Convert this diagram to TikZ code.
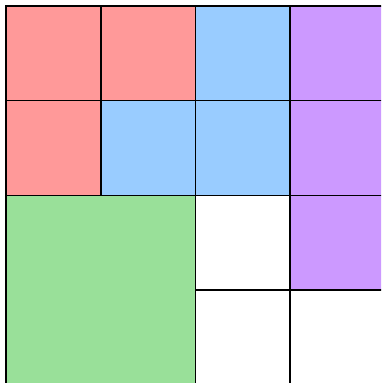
\documentclass[tikz,border=0pt]{standalone}
\usepackage{tikz}

\definecolor{rouge}{RGB}{255,153,153}
\definecolor{bleu}{RGB}{153,204,255}
\definecolor{violet}{RGB}{204,153,255}
\definecolor{vert}{RGB}{153,224,153}

\begin{document}
\begin{tikzpicture}[line width=0.5pt]

% ===== Cadre (coupe a droite et en bas) =====
\useasboundingbox (-0.063,0.019) rectangle (3.96,4.063);
\clip (-0.063,0.019) rectangle (3.96,4.063);

% ===== Cases colorees =====
\foreach \c/\r in {0/3,1/3,0/2}
  \fill[rouge] (\c,\r) rectangle ++(1,1);
\foreach \c/\r in {2/3,1/2,2/2}
  \fill[bleu] (\c,\r) rectangle ++(1,1);
\foreach \c/\r in {3/3,3/2,3/1}
  \fill[violet] (\c,\r) rectangle ++(1,1);

% Le grand bloc vert
\fill[vert] (0,0) rectangle (2,2);

% ===== Grille =====
\draw (0,0) rectangle (4,4);
\draw (0,3) -- (4,3);
\draw (0,2) -- (4,2);
\draw (2,1) -- (4,1);
\draw (1,2) -- (1,4);
\draw (2,0) -- (2,4);
\draw (3,0) -- (3,4);

\end{tikzpicture}
\end{document}
